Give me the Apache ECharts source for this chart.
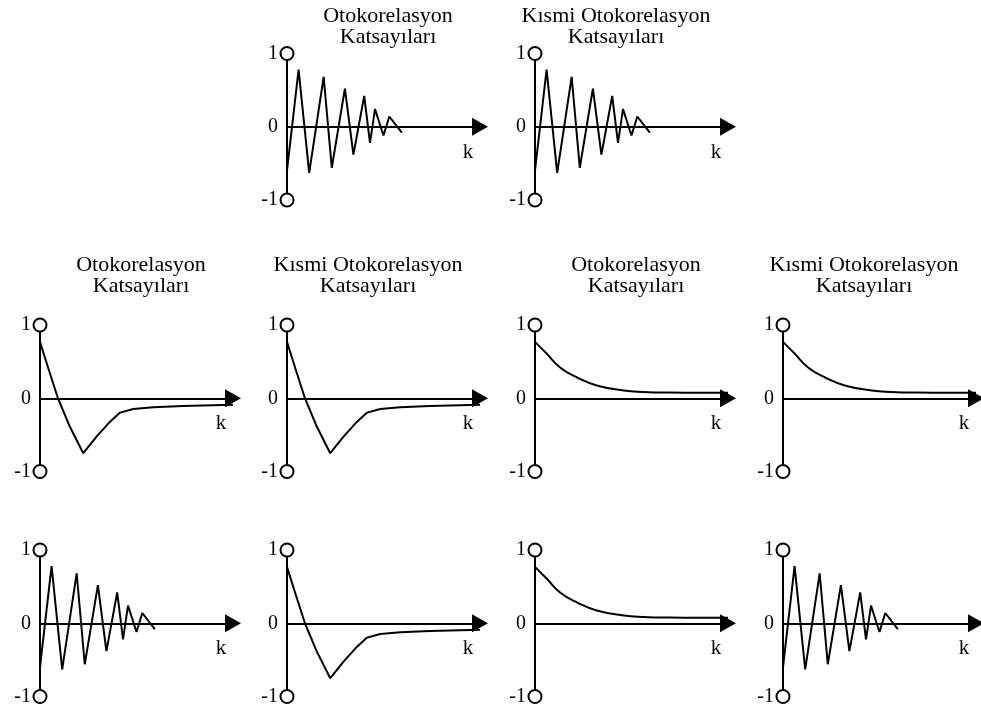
<!DOCTYPE html>
<html><head><meta charset="utf-8">
<script src="https://cdn.jsdelivr.net/npm/echarts@6/dist/echarts.min.js"></script>
<style>html,body{margin:0;padding:0;background:#fff}#c{width:981px;height:713px}</style>
</head><body><div id="c"></div>
<script>
// Oscillating (alternating sign, decaying) pattern
const oscK = [0, 0.6, 1.15, 1.9, 2.32, 3.0, 3.44, 4.0, 4.3, 4.56, 5.0, 5.3, 5.95];
const oscV = [-0.6, 0.78, -0.63, 0.68, -0.56, 0.52, -0.38, 0.42, -0.22, 0.24, -0.12, 0.14, -0.08];
// Damped sine-like pattern (cross zero, dip, return toward zero from below)
const dampK = [0, 0.43, 0.93, 1.55, 2.24, 2.94, 3.63, 4.15, 4.83, 5.87, 7.4, 10];
const dampV = [0.77, 0.41, 0, -0.39, -0.75, -0.52, -0.32, -0.196, -0.146, -0.123, -0.105, -0.09];
// Exponential decay pattern
const expK = [0, 0.6, 1.3, 2.2, 3.2, 4.6, 5.6, 7.0, 8.5, 10];
const expV = [0.77, 0.61, 0.42, 0.28, 0.175, 0.105, 0.085, 0.077, 0.076, 0.076];

const titleAuto = "Otokorelasyon\nKatsayıları";
const titlePartial = "Kısmi Otokorelasyon\nKatsayıları";
const xAxisName = "k";
const yTicks = [-1, 0, 1];

const patterns = { osc: [oscK, oscV, false], damp: [dampK, dampV, false], exp: [expK, expV, true] };

// panel layout: [axis x, row, title, pattern]
const rowTops = [53.5, 325, 550];
const panels = [
  [287, 0, titleAuto, 'osc'], [535, 0, titlePartial, 'osc'],
  [40, 1, titleAuto, 'damp'], [287, 1, titlePartial, 'damp'], [535, 1, titleAuto, 'exp'], [783, 1, titlePartial, 'exp'],
  [40, 2, null, 'osc'], [287, 2, null, 'damp'], [535, 2, null, 'exp'], [783, 2, null, 'osc']
];

const font = 'Liberation Serif';
const grid = [], xAxis = [], yAxis = [], series = [], title = [];
panels.forEach((p, i) => {
  const [ax, row, t, pat] = p;
  const top = rowTops[row];
  grid.push({ left: ax, top: top, width: 193, height: 146.5, containLabel: false });
  xAxis.push({
    type: 'value', gridIndex: i, min: 0, max: 10,
    axisLine: { show: true, onZero: true, symbol: ['none', 'triangle'], symbolSize: [18, 16], lineStyle: { color: '#000', width: 2 } },
    axisTick: { show: false }, axisLabel: { show: false }, splitLine: { show: false },
    name: xAxisName, nameLocation: 'end', nameGap: -12,
    nameTextStyle: { fontFamily: font, fontSize: 21, color: '#000', align: 'center', verticalAlign: 'top', padding: [15, 0, 0, 0] }
  });
  yAxis.push({
    type: 'value', gridIndex: i, min: yTicks[0], max: yTicks[yTicks.length - 1], interval: 1,
    axisLine: { show: true, symbol: ['emptyCircle', 'emptyCircle'], symbolSize: [13, 13], lineStyle: { color: '#000', width: 2 } },
    axisTick: { show: false }, splitLine: { show: false },
    axisLabel: { color: '#000', fontFamily: font, fontSize: 20, margin: 9 }
  });
  const [ks, vs, smooth] = patterns[pat];
  series.push({
    type: 'line', xAxisIndex: i, yAxisIndex: i, smooth: smooth, showSymbol: false, symbol: 'none',
    lineStyle: { color: '#000', width: 2 }, data: ks.map((k, j) => [k, vs[j]]), z: 1
  });
  if (t) {
    const off = t === titleAuto ? 96 : 76;
    title.push({
      text: t, left: ax + off, top: row === 0 ? 1 : 249.5, textAlign: 'center',
      textStyle: { fontFamily: font, fontSize: 22, fontWeight: 'normal', color: '#000', lineHeight: 21, align: 'center' }
    });
  }
});

const chart = echarts.init(document.getElementById('c'), null, { renderer: 'canvas' });
chart.setOption({ animation: false, backgroundColor: '#fff', title, grid, xAxis, yAxis, series });
</script></body></html>
